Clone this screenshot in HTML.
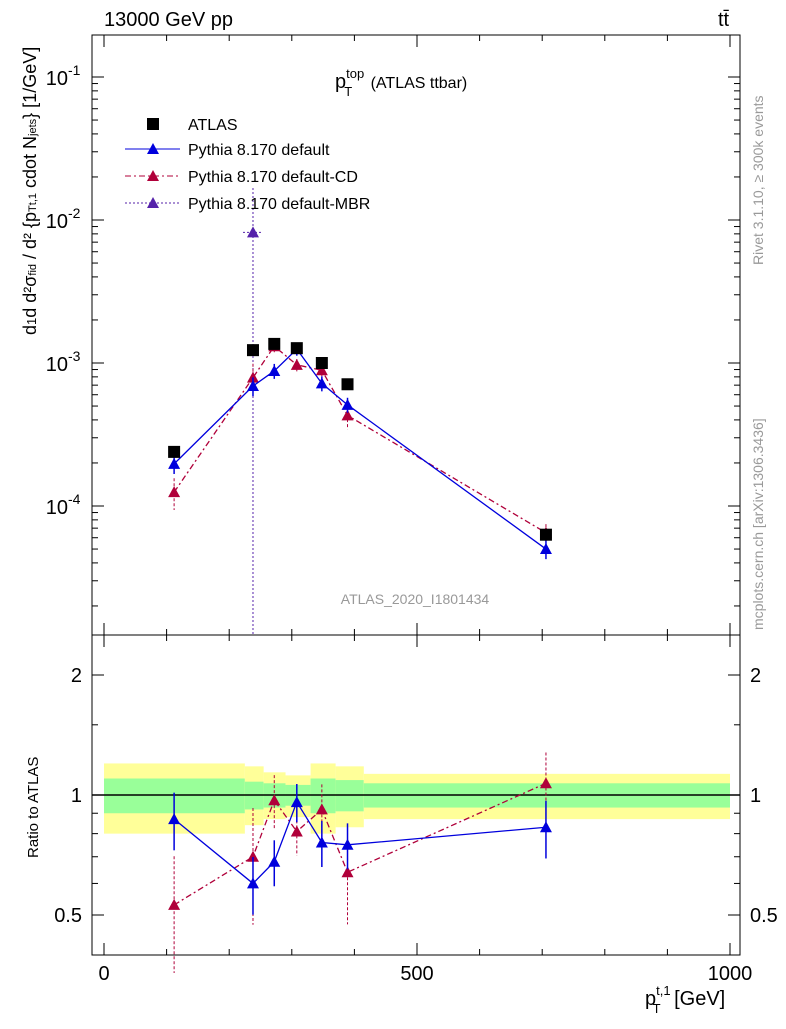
<!DOCTYPE html>
<html><head><meta charset="utf-8"><style>
body{margin:0;background:#fff}
svg text{font-family:"Liberation Sans",sans-serif}
</style></head><body>
<svg id="c" width="786" height="1024" xmlns="http://www.w3.org/2000/svg">
<g id="g"></g>
</svg>
<script>
const xs = [112, 238, 272, 308, 348, 389, 706];
const atlas = [2.39e-4, 1.23e-3, 1.36e-3, 1.27e-3, 1.0e-3, 7.1e-4, 6.3e-5];
const pyDef = [1.97e-4, 6.9e-4, 8.8e-4, 1.25e-3, 7.2e-4, 5.1e-4, 5.0e-5];
const pyDefErr = [0.15, 0.15, 0.12, 0.1, 0.12, 0.12, 0.15];
const pyCD = [1.25e-4, 7.9e-4, 1.31e-3, 9.7e-4, 8.9e-4, 4.3e-4, 6.5e-5];
const pyCDErr = [0.25, 0.25, 0.12, 0.1, 0.12, 0.2, 0.15];
const mbrX = [238];
const mbrY = [8.2e-3];
const rDef = [0.87, 0.60, 0.68, 0.96, 0.76, 0.75, 0.83];
const rCD = [0.53, 0.70, 0.97, 0.81, 0.92, 0.64, 1.07];
const binEdges = [0, 225, 255, 290, 330, 370, 415, 1000];
const yelHi = [1.20, 1.18, 1.14, 1.12, 1.20, 1.18, 1.13];
const grnHi = [1.10, 1.08, 1.07, 1.06, 1.10, 1.09, 1.07];
const grnLo = [0.90, 0.92, 0.93, 0.94, 0.90, 0.91, 0.93];
const yelLo = [0.80, 0.84, 0.87, 0.88, 0.80, 0.83, 0.87];
const xTicks = [0, 500, 1000];
const yMainTicks = [-4, -3, -2, -1];
const yRatioTicks = [0.5, 1, 2];

const L=92,R=740,T=35,MB=635,RB=955;
const X=v=>104+v*0.626;
const Y=v=>363-(Math.log10(v)+3)*143;
const YR=v=>795-Math.log2(v)*120;
const g=document.getElementById('g');
const NS='http://www.w3.org/2000/svg';
function mk(t,a,txt){const e=document.createElementNS(NS,t);for(const k in a)e.setAttribute(k,a[k]);if(txt!==undefined)e.textContent=txt;g.appendChild(e);return e;}
function tri(x,y,c,name){const e=mk('polygon',{points:`${x-6},${y+5} ${x+6},${y+5} ${x},${y-6}`,fill:c});

}

for(let i=0;i<yelHi.length;i++){
 const x0=X(binEdges[i]),x1=X(binEdges[i+1]);
 const a=mk('rect',{x:x0,y:YR(yelHi[i]),width:x1-x0,height:YR(yelLo[i])-YR(yelHi[i]),fill:'#ffff99'});
 
 
 const b=mk('rect',{x:x0,y:YR(grnHi[i]),width:x1-x0,height:YR(grnLo[i])-YR(grnHi[i]),fill:'#99ff99'});
 
 
}
mk('line',{x1:L,x2:R,y1:YR(1),y2:YR(1),stroke:'#000','stroke-width':1.5});

mk('rect',{x:L,y:T,width:R-L,height:MB-T,fill:'none',stroke:'#000'});
mk('rect',{x:L,y:MB,width:R-L,height:RB-MB,fill:'none',stroke:'#000'});

for(let v=0;v<=1000;v+=100){const x=X(v);const big=v%500==0;
 for(const[yb,yt] of [[MB,T],[RB,MB]]){mk('line',{x1:x,x2:x,y1:yb,y2:yb-(big?12:6),stroke:'#000'});mk('line',{x1:x,x2:x,y1:yt,y2:yt+(big?12:6),stroke:'#000'});}}
xTicks.forEach(v=>{const t=mk('text',{x:X(v),y:980,'font-size':20,'text-anchor':'middle'},String(v));
});

for(let d=-5;d<=-1;d++){for(let m=1;m<10;m++){const y=Y(m*Math.pow(10,d));if(y<T||y>MB)continue;const w=m==1?12:6;
 mk('line',{x1:L,x2:L+w,y1:y,y2:y,stroke:'#000'});mk('line',{x1:R,x2:R-w,y1:y,y2:y,stroke:'#000'});}}
yMainTicks.forEach(d=>{const y=Y(Math.pow(10,d));
 const t=mk('text',{x:68,y:y+8,'font-size':20,'text-anchor':'end'},'10');
 
 mk('text',{x:68,y:y-2,'font-size':14},String(d));});

[0.5,0.6,0.7,0.8,0.9,1,1.5,2].forEach(v=>{const y=YR(v);const w=(v==0.5||v==1||v==2)?12:6;
 mk('line',{x1:L,x2:L+w,y1:y,y2:y,stroke:'#000'});mk('line',{x1:R,x2:R-w,y1:y,y2:y,stroke:'#000'});});
yRatioTicks.forEach(v=>{const y=YR(v);
 const t=mk('text',{x:82,y:y+7,'font-size':20,'text-anchor':'end'},String(v));
 
 mk('text',{x:750,y:y+7,'font-size':20},String(v));});

mk('line',{x1:X(mbrX[0]),x2:X(mbrX[0]),y1:188,y2:MB,stroke:'#5522aa','stroke-dasharray':'2,2'});
mk('line',{x1:X(mbrX[0])-10,x2:X(mbrX[0])+10,y1:Y(mbrY[0]),y2:Y(mbrY[0]),stroke:'#5522aa','stroke-dasharray':'2,2'});
tri(X(mbrX[0]),Y(mbrY[0]),'#5522aa','mbr-point');

mk('polyline',{points:xs.map((x,i)=>X(x)+','+Y(pyCD[i])).join(' '),fill:'none',stroke:'#b0003a','stroke-dasharray':'6,3,2,3','stroke-width':1.3});
xs.forEach((x,i)=>{const v=pyCD[i],e=pyCDErr[i];mk('line',{x1:X(x),x2:X(x),y1:Y(v*(1+e)),y2:Y(v*(1-e)),stroke:'#b0003a','stroke-dasharray':'3,2'});tri(X(x),Y(v),'#b0003a','cd-point');});
mk('polyline',{points:xs.map((x,i)=>X(x)+','+Y(pyDef[i])).join(' '),fill:'none',stroke:'#0000dd','stroke-width':1.3});
xs.forEach((x,i)=>{const v=pyDef[i],e=pyDefErr[i];mk('line',{x1:X(x),x2:X(x),y1:Y(v*(1+e)),y2:Y(v*(1-e)),stroke:'#0000dd','stroke-width':1.5});tri(X(x),Y(v),'#0000dd','default-point');});
xs.forEach((x,i)=>{const r=mk('rect',{x:X(x)-6,y:Y(atlas[i])-6,width:12,height:12,fill:'#000'});
 });

mk('polyline',{points:xs.map((x,i)=>X(x)+','+YR(rCD[i])).join(' '),fill:'none',stroke:'#b0003a','stroke-dasharray':'6,3,2,3','stroke-width':1.3});
xs.forEach((x,i)=>{const v=rCD[i],e=pyCDErr[i]*1.3;mk('line',{x1:X(x),x2:X(x),y1:YR(v*(1+e)),y2:YR(v*(1-e)),stroke:'#b0003a','stroke-dasharray':'3,2'});tri(X(x),YR(v),'#b0003a','cd-ratio-point');});
mk('polyline',{points:xs.map((x,i)=>X(x)+','+YR(rDef[i])).join(' '),fill:'none',stroke:'#0000dd','stroke-width':1.3});
xs.forEach((x,i)=>{const v=rDef[i],e=pyDefErr[i]*1.1;mk('line',{x1:X(x),x2:X(x),y1:YR(v*(1+e)),y2:YR(v*(1-e)),stroke:'#0000dd','stroke-width':1.5});tri(X(x),YR(v),'#0000dd','default-ratio-point');});
</script>
<svg style="position:absolute;left:0;top:0" width="786" height="1024">
<text x="104" y="26" font-size="20">13000 GeV pp</text>
<text x="718" y="26" font-size="20">tt̄</text>
<text x="335" y="88" font-size="20">p<tspan font-size="13" dy="-10">top</tspan><tspan font-size="13" dx="-20" dy="18">T</tspan><tspan font-size="16" dx="14" dy="-8"> (ATLAS ttbar)</tspan></text>
<g>
<rect x="147" y="118" width="12" height="12" fill="#000"/>
<text x="188" y="130" font-size="16">ATLAS</text>
<line x1="125" x2="180" y1="149" y2="149" stroke="#0000dd"/><polygon points="147,154 159,154 153,143" fill="#0000dd"/>
<text x="188" y="155" font-size="16">Pythia 8.170 default</text>
<line x1="125" x2="180" y1="176" y2="176" stroke="#b0003a" stroke-dasharray="6,3,2,3"/><polygon points="147,181 159,181 153,170" fill="#b0003a"/>
<text x="188" y="182" font-size="16">Pythia 8.170 default-CD</text>
<line x1="125" x2="180" y1="203" y2="203" stroke="#5522aa" stroke-dasharray="2,2"/><polygon points="147,208 159,208 153,197" fill="#5522aa"/>
<text x="188" y="209" font-size="16">Pythia 8.170 default-MBR</text>
</g>
<text x="415" y="604" font-size="14" fill="#999" text-anchor="middle">ATLAS_2020_I1801434</text>
<text transform="translate(36,335) rotate(-90)" font-size="18">d<tspan font-size="13">1</tspan>d  d²σ<tspan font-size="11">fid</tspan> / d² {p<tspan font-size="11">T</tspan><tspan font-size="11">t,1</tspan> cdot N<tspan font-size="11">jets</tspan>} [1/GeV]</text>
<text transform="translate(38,858) rotate(-90)" font-size="15">Ratio to ATLAS</text>
<text x="645" y="1005" font-size="20">p<tspan font-size="13" dy="-10">t,1</tspan><tspan font-size="13" dx="-18" dy="18">T</tspan><tspan dx="8" dy="-8"> [GeV]</tspan></text>
<text transform="translate(763,265) rotate(-90)" font-size="14" fill="#999">Rivet 3.1.10, ≥ 300k events</text>
<text transform="translate(763,630) rotate(-90)" font-size="14" fill="#999">mcplots.cern.ch [arXiv:1306.3436]</text>
</svg>
</body></html>
